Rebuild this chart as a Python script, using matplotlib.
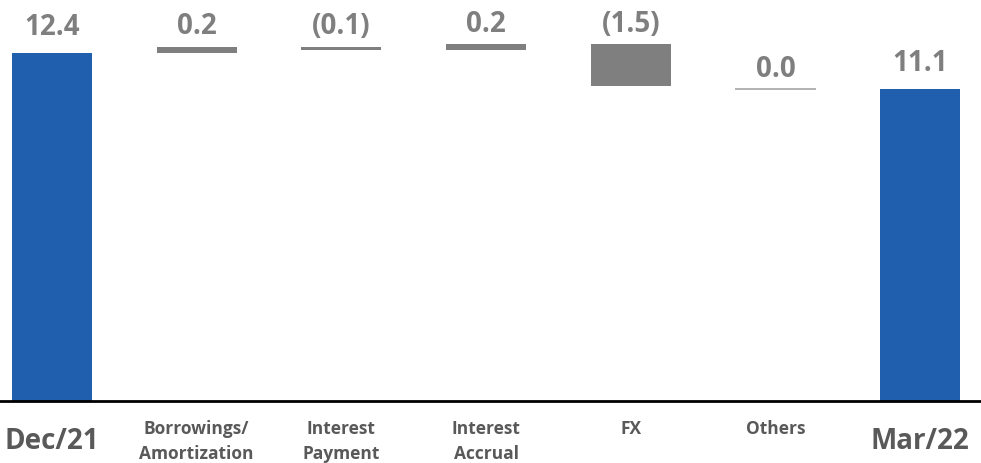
import matplotlib.pyplot as plt
import numpy as np

categories = ['Dec/21', 'Borrowings/\nAmortization', 'Interest\nPayment', 'Interest\nAccrual',
              'FX', 'Others', 'Mar/22']
values = [12.4, 0.2, -0.1, 0.2, -1.5, 0.0, 11.1]
labels = ['12.4', '0.2', '(0.1)', '0.2', '(1.5)', '0.0', '11.1']
is_total = [True, False, False, False, False, False, True]

blue = '#1f5fad'
grey = '#7f7f7f'
W, H = 981, 463

fig = plt.figure(figsize=(W / 100, H / 100), dpi=100)
ax = fig.add_axes([0, 62 / H, 1, 401 / H])

x = np.arange(len(categories))
running = 0.0
tops = []
for i, (v, tot) in enumerate(zip(values, is_total)):
    if tot:
        ax.bar(x[i], v, width=0.553, color=blue)
        running = v
        tops.append(v)
    else:
        bottom = running if v >= 0 else running + v
        h = abs(v)
        if h < 0.05:
            ax.hlines(running - 0.1, x[i] - 0.2765, x[i] + 0.2765, color='#a6a6a6', lw=1.2)
            tops.append(running - 0.1)
        else:
            ax.bar(x[i], h, bottom=bottom, width=0.553, color=grey)
            tops.append(bottom + h)
        running += v

for i, lab in enumerate(labels):
    off = 13 if is_total[i] else 9
    ax.annotate(lab, (x[i], tops[i]), xytext=(0, off), textcoords='offset points',
                ha='center', va='baseline', fontsize=20, fontweight='bold', color=grey,
                family='Open Sans')

ax.set_xlim(-0.359, 6.42)
ax.set_ylim(0, 401 / 28.1)
for s in ['top', 'right', 'left']:
    ax.spines[s].set_visible(False)
ax.spines['bottom'].set_linewidth(2)
ax.spines['bottom'].set_color('black')
ax.set_yticks([])
ax.set_xticks([])

for i, c in enumerate(categories):
    xf = (x[i] + 0.359) / 6.779
    if is_total[i]:
        fig.text(xf, 1 - 449 / H, c, ha='center', va='baseline',
                 fontsize=20, fontweight='bold', color='#595959', family='Open Sans')
    else:
        for j, line in enumerate(c.split('\n')):
            fig.text(xf, 1 - (434 + 25 * j) / H, line, ha='center', va='baseline',
                     fontsize=12.5, fontweight='bold', color='#595959', family='Open Sans')

fig.savefig('out.png', dpi=100)
